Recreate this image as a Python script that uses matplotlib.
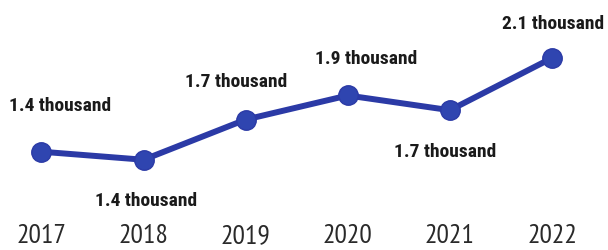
import matplotlib
matplotlib.use("Agg")
import matplotlib.pyplot as plt

years = ["2017", "2018", "2019", "2020", "2021", "2022"]
values = [1.42, 1.36, 1.66, 1.84, 1.73, 2.12]
labels = ["1.4 thousand", "1.4 thousand", "1.7 thousand", "1.9 thousand", "1.7 thousand", "2.1 thousand"]
# label offsets in pixels (dx, dy)
offsets = [(19, 46), (2, -41), (-10, 38), (18, 36), (-5, -42), (1, 34)]

fig = plt.figure(figsize=(6.08, 2.5), dpi=100)
ax = fig.add_axes([0, 30 / 250, 1, 220 / 250])
x = list(range(len(years)))
color = "#2b3aa6"
ax.plot(x, values, color=color, lw=4.3, marker="o", markersize=14,
        markerfacecolor="#2f45b0", markeredgecolor=color, solid_capstyle="round")
ax.set_xlim(-0.406, 5.548)
ax.set_ylim(0.910, 2.553)
ax.set_xticks(x)
ax.set_xticklabels(years, fontsize=20, family=["PT Sans Narrow", "DejaVu Sans"], color="#2a2a2a")
ax.tick_params(axis="x", length=0, pad=3)
ax.set_yticks([])
for s in ax.spines.values():
    s.set_visible(False)
for xi, v, lab, (dx, dy) in zip(x, values, labels, offsets):
    ax.annotate(lab, (xi, v), xytext=(dx, dy), textcoords="offset pixels",
                ha="center", va="center", fontsize=14, fontweight="bold",
                family=["Roboto Condensed", "DejaVu Sans"], color="#1a1a1a")
fig.savefig("out.png", dpi=100)
